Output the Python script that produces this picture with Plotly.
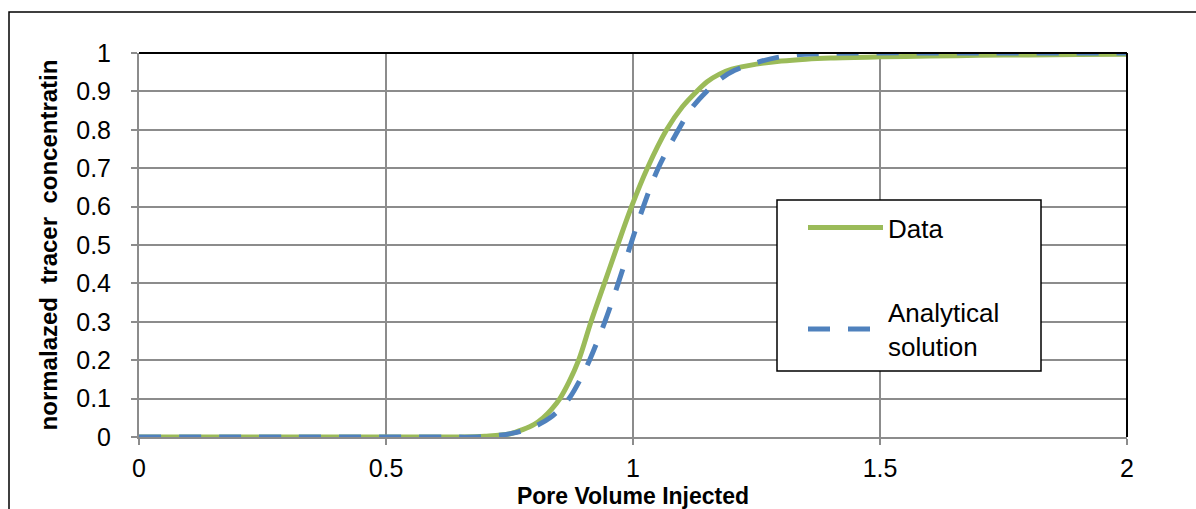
import plotly.graph_objects as go

# Data
data_x = [0, 0.3, 0.5, 0.65, 0.7, 0.75, 0.778, 0.8, 0.818, 0.835, 0.852, 0.87, 0.89, 0.915, 0.942,
          0.969, 0.997, 1.029, 1.068, 1.1, 1.129, 1.15, 1.175, 1.2, 1.25, 1.3, 1.35, 1.4, 1.5, 1.6,
          1.7, 1.8, 1.9, 2.0]
data_y = [0, 0, 0, 0, 0.002, 0.008, 0.02, 0.033, 0.05, 0.072, 0.1, 0.142, 0.2, 0.3, 0.4,
          0.5, 0.6, 0.7, 0.8, 0.86, 0.9, 0.925, 0.945, 0.958, 0.971, 0.979, 0.984, 0.987, 0.99, 0.992,
          0.994, 0.995, 0.996, 0.997]

anal_x = [0, 0.3, 0.6, 0.7, 0.757, 0.785, 0.81, 0.832, 0.852, 0.872, 0.892, 0.912, 0.943, 0.970,
          0.995, 1.021, 1.051, 1.092, 1.118, 1.149, 1.18, 1.206, 1.25, 1.29, 1.33, 1.37, 1.45, 1.7, 2.0]
anal_y = [0, 0, 0, 0.001, 0.01, 0.02, 0.033, 0.05, 0.073, 0.103, 0.147, 0.2, 0.3, 0.4,
          0.5, 0.6, 0.7, 0.8, 0.855, 0.9, 0.935, 0.955, 0.975, 0.988, 0.995, 0.998, 1.0, 1.0, 1.0]

x_ticks = [0, 0.5, 1, 1.5, 2]
y_ticks = [0, 0.1, 0.2, 0.3, 0.4, 0.5, 0.6, 0.7, 0.8, 0.9, 1]

GREEN = "#9BBB59"
BLUE = "#4F81BD"
GRID = "#8C8C8C"
FONT = "Liberation Sans, Arial, sans-serif"

fig = go.Figure()
fig.add_trace(go.Scatter(x=data_x, y=data_y, mode="lines", name="Data",
                         line=dict(color=GREEN, width=5, shape="spline", smoothing=1.0),
                         legendgroup="a"))
fig.add_trace(go.Scatter(x=anal_x, y=anal_y, mode="lines", name="Analytical<br>solution",
                         line=dict(color=BLUE, width=5, dash="22px,18px", shape="spline", smoothing=1.0),
                         legendgroup="b"))

W, H = 1196, 509
L, R, T, B = 139, 69, 53, 72
pw, ph = W - L - R, H - T - B

def px(xp):
    return (xp - L) / pw

def py(yp):
    return (H - B - yp) / ph

fig.update_layout(
    width=W, height=H,
    margin=dict(l=L, r=R, t=T, b=B, autoexpand=False),
    paper_bgcolor="white", plot_bgcolor="white",
    font=dict(family=FONT, color="black", size=24),
    showlegend=True,
    legend=dict(
        x=px(803), y=py(204), xanchor="left", yanchor="top",
        borderwidth=0, bgcolor="rgba(0,0,0,0)",
        font=dict(size=26, family=FONT),
        itemwidth=75, tracegroupgap=48,
    ),
    xaxis=dict(
        range=[0, 2], tickvals=x_ticks, ticktext=[str(v) for v in x_ticks],
        showgrid=True, gridcolor=GRID, gridwidth=1.5,
        showline=True, linecolor=GRID, linewidth=2,
        ticks="outside", ticklen=6, tickcolor=GRID, tickwidth=1.5,
        tickfont=dict(size=25), zeroline=False, automargin=False,
        ticklabelstandoff=2,
        title=dict(text="<b>Pore Volume Injected</b>", font=dict(size=23), standoff=12),
    ),
    yaxis=dict(
        range=[0, 1], tickvals=y_ticks, ticktext=[f"{v:g}" for v in y_ticks],
        showgrid=True, gridcolor=GRID, gridwidth=1.5,
        showline=True, linecolor=GRID, linewidth=2,
        ticks="outside", ticklen=6, tickcolor=GRID, tickwidth=1.5,
        tickfont=dict(size=25), zeroline=False, automargin=False,
        ticklabelstandoff=15,
        title=dict(text="<b>normalazed \u00a0tracer \u00a0concentratin</b>", font=dict(size=24), standoff=12),
    ),
    shapes=[
        # legend frame
        dict(type="rect", xref="paper", yref="paper", x0=px(777), x1=px(1041), y0=py(371), y1=py(200),
             line=dict(color="black", width=1.5), fillcolor="white", layer="above"),
        # top and right plot border (black)
        dict(type="line", xref="paper", yref="paper", x0=0, x1=1, y0=1, y1=1,
             line=dict(color="black", width=2)),
        dict(type="line", xref="paper", yref="paper", x0=1, x1=1, y0=0, y1=1,
             line=dict(color="black", width=2)),
        # outer chart border
        dict(type="rect", xref="paper", yref="paper", x0=px(9), x1=px(1210), y0=py(530), y1=py(12),
             line=dict(color="black", width=1.5), layer="below"),
    ],
)

fig.write_html("out.html")
